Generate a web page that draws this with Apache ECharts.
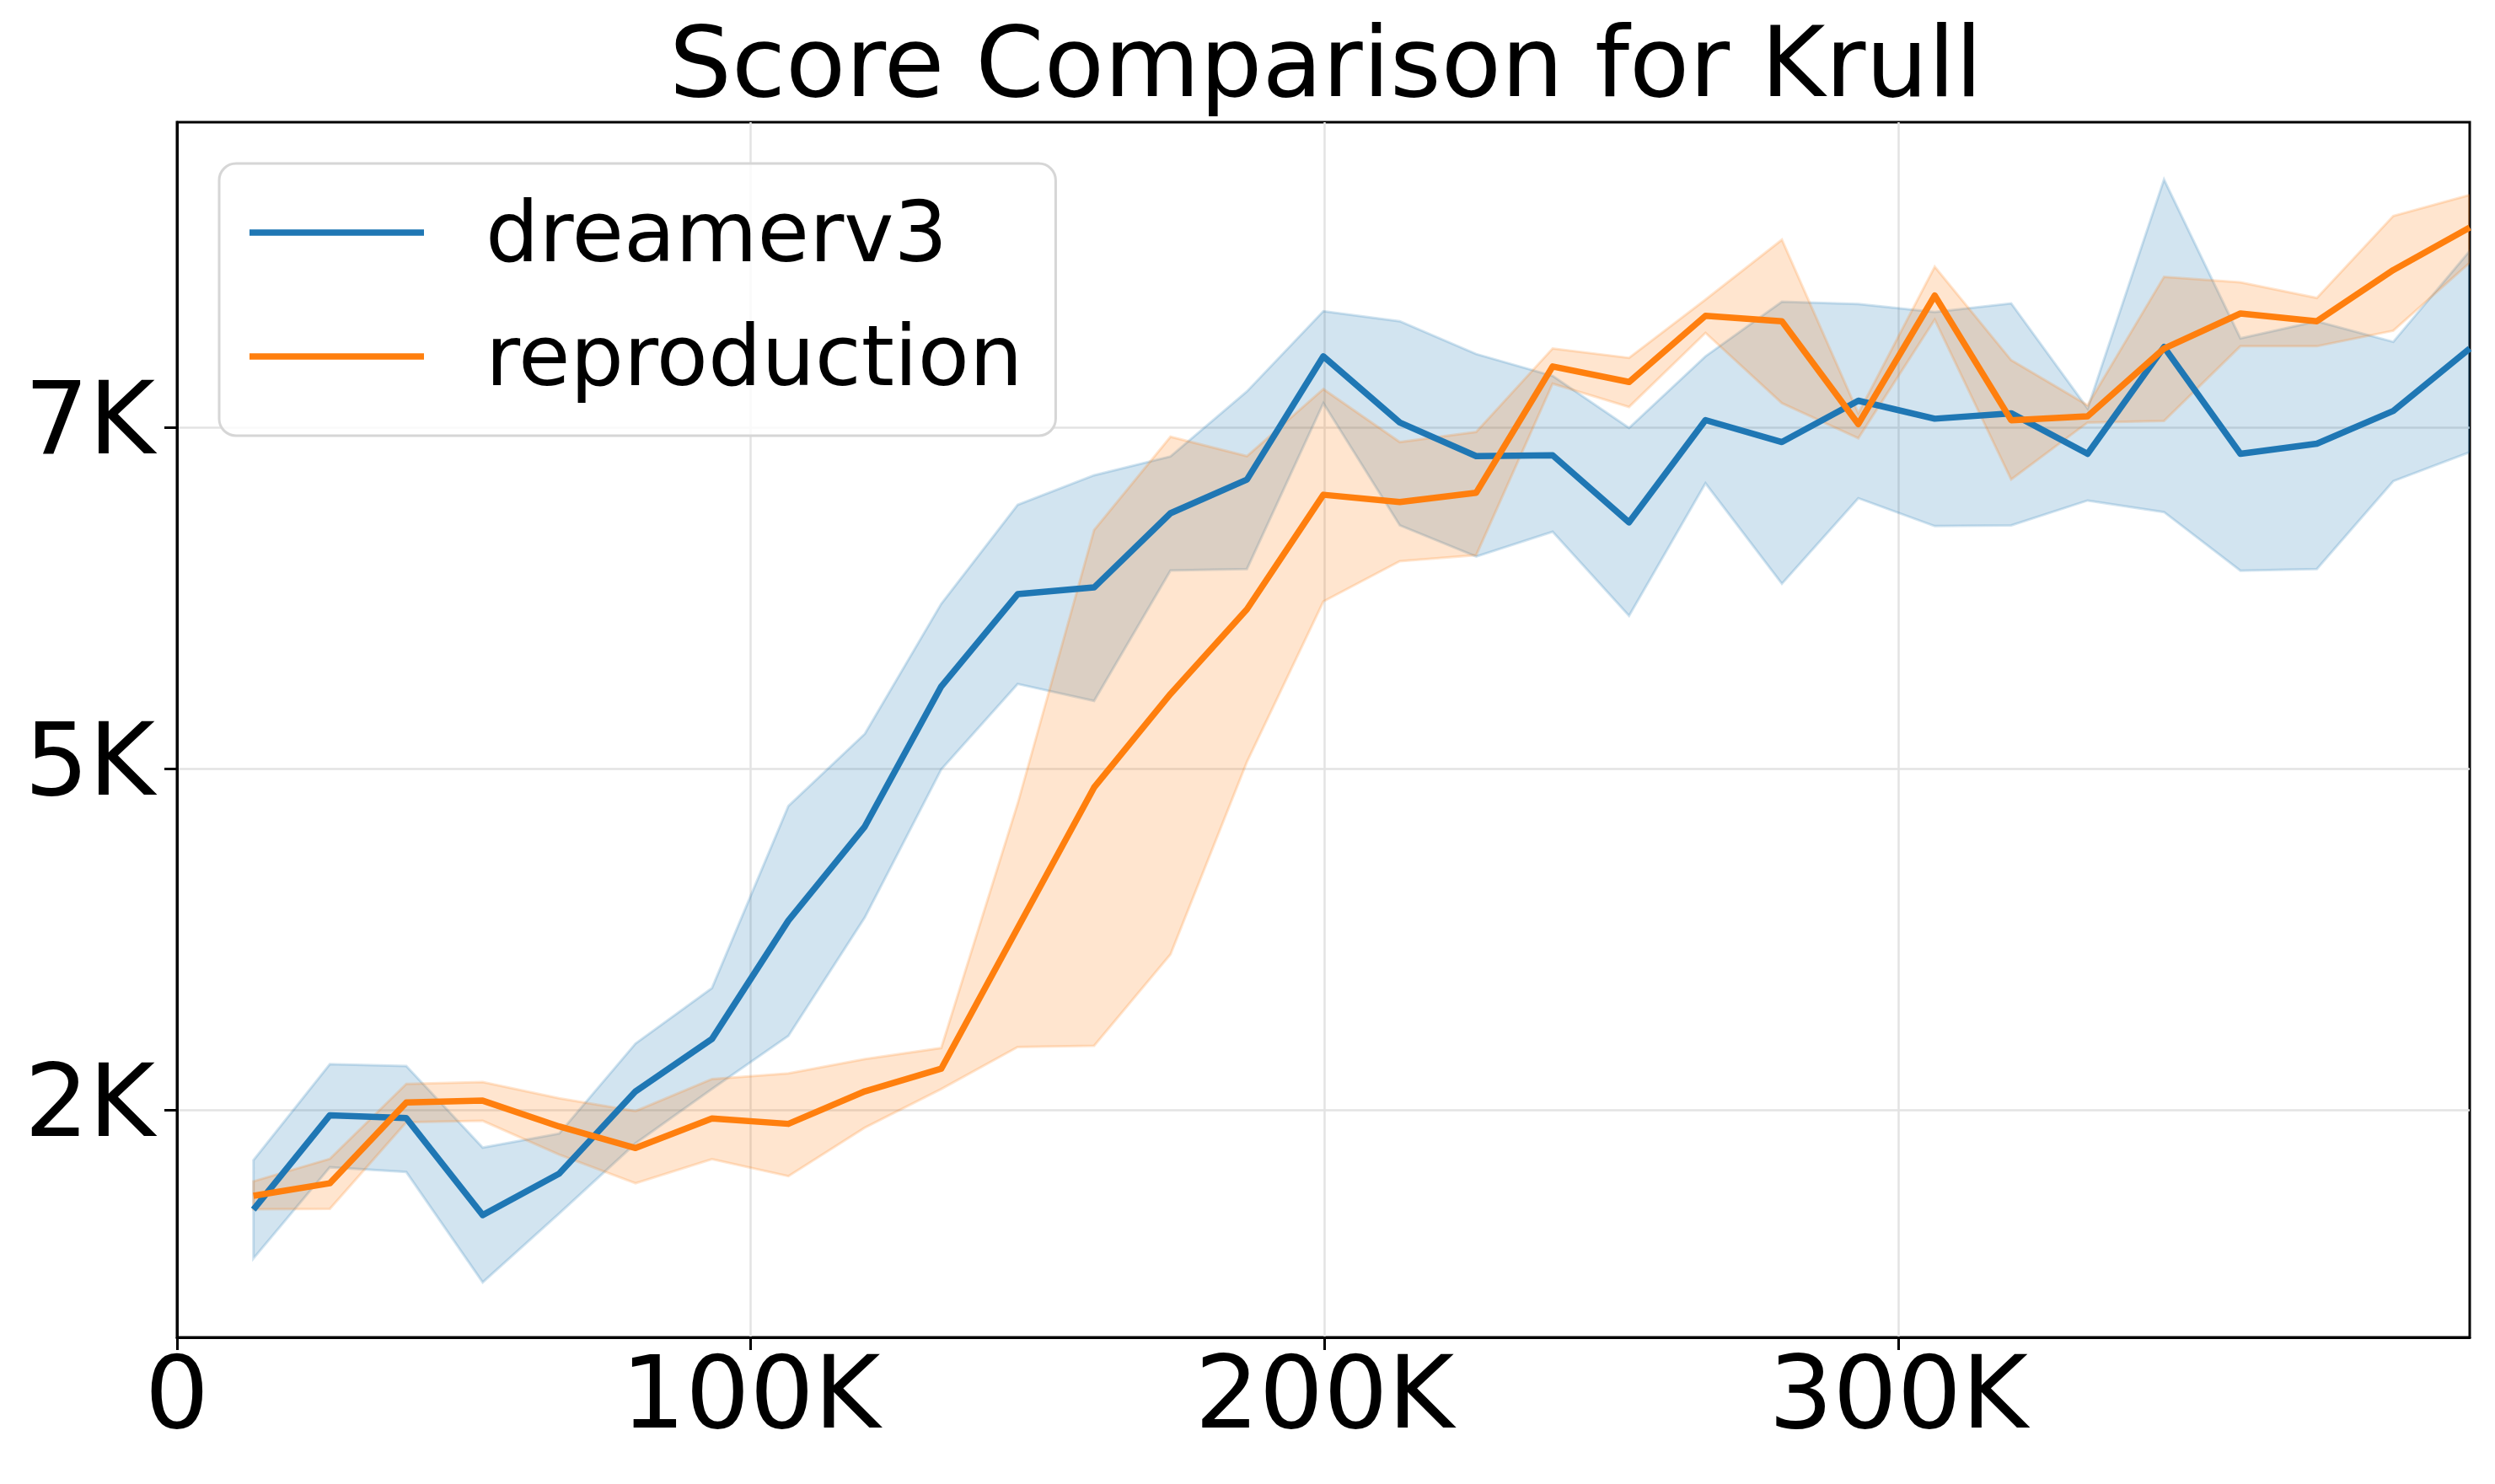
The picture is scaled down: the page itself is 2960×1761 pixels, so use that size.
<!DOCTYPE html>
<html>
<head>
<meta charset="utf-8">
<script src="https://cdn.jsdelivr.net/npm/echarts@6/dist/echarts.min.js"></script>
<style>
html,body{margin:0;padding:0;background:#fff;}
#chart{width:2960px;height:1761px;}
</style>
</head>
<body>
<div id="chart"></div>
<script>
// ---- data ----
const steps = [13320,26640,39960,53280,66600,79920,93240,106560,119880,133200,
  146520,159840,173160,186480,199800,213120,226440,239760,253080,266400,
  279720,293040,306360,319680,333000,346320,359640,372960,386280,399600];

const dreamerMean = [1768,2459,2438,1728,2031,2634,3018,3885,4574,5600,
  6276,6325,6869,7115,8018,7533,7287,7293,6802,7551,
  7390,7693,7561,7601,7304,8086,7304,7378,7618,8075];
const dreamerUpper = [2130,2833,2819,2222,2325,2984,3391,4724,5253,6205,
  6930,7147,7285,7761,8349,8275,8035,7875,7494,8018,
  8418,8401,8343,8406,7636,9313,8150,8275,8124,8790];
const dreamerLower = [1410,2078,2043,1235,1739,2253,2652,3040,3908,4992,
  5618,5494,6449,6460,7675,6780,6551,6733,6117,7088,
  6352,6979,6774,6780,6962,6877,6448,6460,7104,7316];

const reproMean = [1869,1961,2552,2566,2377,2219,2435,2396,2634,2800,
  3830,4860,5545,6165,7004,6951,7019,7944,7830,8315,
  8275,7522,8463,7550,7579,8075,8332,8275,8650,8961];
const reproUpper = [1975,2140,2689,2702,2583,2490,2724,2765,2871,2952,
  4742,6745,7429,7287,7778,7390,7464,8075,8007,8434,
  8872,7601,8674,7990,7660,8600,8560,8446,9046,9200];
const reproLower = [1770,1774,2407,2418,2171,1961,2137,2013,2368,2651,
  2959,2968,3637,5047,6222,6517,6562,7818,7647,8190,
  7675,7418,8287,7116,7533,7545,8092,8092,8206,8703];

const xTickValues = [0,100000,200000,300000];
const xTickLabels = ['0','100K','200K','300K'];
const yTickValues = [2500,5000,7500];
const yTickLabels = ['2K','5K','7K'];

const seriesNames = ['dreamerv3','reproduction'];
const titleText = 'Score Comparison for Krull';

// ---- chart ----
const FONT = 'DejaVu Sans';
const BLUE = '#1f77b4', ORANGE = '#ff7f0e';

function bandSeries(name, lower, upper, fill) {
  return {
    type: 'custom', name: name, silent: true, z: 1,
    encode: {x: 0, y: [1, 2]},
    data: steps.map((s, i) => [s, lower[i], upper[i]]),
    clip: true,
    renderItem: function (params, api) {
      if (params.dataIndex !== 0) return null;
      const pts = [];
      for (let i = 0; i < steps.length; i++) pts.push(api.coord([steps[i], upper[i]]));
      for (let i = steps.length - 1; i >= 0; i--) pts.push(api.coord([steps[i], lower[i]]));
      return {
        type: 'polygon',
        shape: {points: pts},
        style: {fill: fill, stroke: fill, lineWidth: 3}
      };
    }
  };
}

function lineSeries(name, mean, color) {
  return {
    type: 'line', name: name, z: 3,
    data: steps.map((s, i) => [s, mean[i]]),
    showSymbol: false, symbol: 'none',
    lineStyle: {color: color, width: 7.5, join: 'round'},
    itemStyle: {color: color}
  };
}

const chart = echarts.init(document.getElementById('chart'), null, {renderer: 'canvas'});
chart.setOption({
  animation: false,
  backgroundColor: '#ffffff',
  title: {
    text: titleText,
    left: 1568, top: 21,
    textAlign: 'center',
    textStyle: {fontFamily: FONT, fontSize: 116.5, fontWeight: 'normal', color: '#000', lineHeight: 116}
  },
  legend: {
    orient: 'vertical',
    left: 260, top: 194,
    data: seriesNames,
    icon: 'rect',
    itemWidth: 207, itemHeight: 7.5,
    itemGap: 31,
    padding: [24, 39, 36, 36],
    backgroundColor: 'rgba(255,255,255,0.8)',
    borderColor: '#d6d6d6', borderWidth: 3, borderRadius: 20,
    formatter: '{t|{name}}',
    textStyle: {
      fontFamily: FONT, fontSize: 100, color: '#000',
      rich: {t: {fontFamily: FONT, fontSize: 100, color: '#000', lineHeight: 100, padding: [16, 0, 0, 68]}}
    }
  },
  grid: {
    left: 210, top: 145, right: 30, bottom: 174,
    show: true, borderColor: '#000', borderWidth: 3, backgroundColor: 'transparent'
  },
  xAxis: {
    type: 'value', min: 0, max: 399600,
    axisLine: {show: true, lineStyle: {color: '#000', width: 3}},
    axisTick: {show: true, customValues: xTickValues, length: 15, lineStyle: {color: '#000', width: 3}},
    axisLabel: {
      customValues: xTickValues, margin: 16,
      fontFamily: FONT, fontSize: 120, color: '#000',
      formatter: v => xTickLabels[xTickValues.indexOf(v)]
    },
    splitLine: {show: true, lineStyle: {color: '#e3e3e3', width: 2.5}}
  },
  yAxis: {
    type: 'value', min: 832, max: 9733,
    axisLine: {show: true, lineStyle: {color: '#000', width: 3}},
    axisTick: {show: true, customValues: yTickValues, length: 15, lineStyle: {color: '#000', width: 3}},
    axisLabel: {
      customValues: yTickValues, margin: 26,
      fontFamily: FONT, fontSize: 120, color: '#000',
      formatter: v => yTickLabels[yTickValues.indexOf(v)]
    },
    splitLine: {show: true, lineStyle: {color: '#e3e3e3', width: 2.5}}
  },
  series: [
    bandSeries('dreamerv3 band', dreamerLower, dreamerUpper, 'rgba(31,119,180,0.2)'),
    bandSeries('reproduction band', reproLower, reproUpper, 'rgba(255,127,14,0.2)'),
    lineSeries(seriesNames[0], dreamerMean, BLUE),
    lineSeries(seriesNames[1], reproMean, ORANGE)
  ]
});
</script>
</body>
</html>
